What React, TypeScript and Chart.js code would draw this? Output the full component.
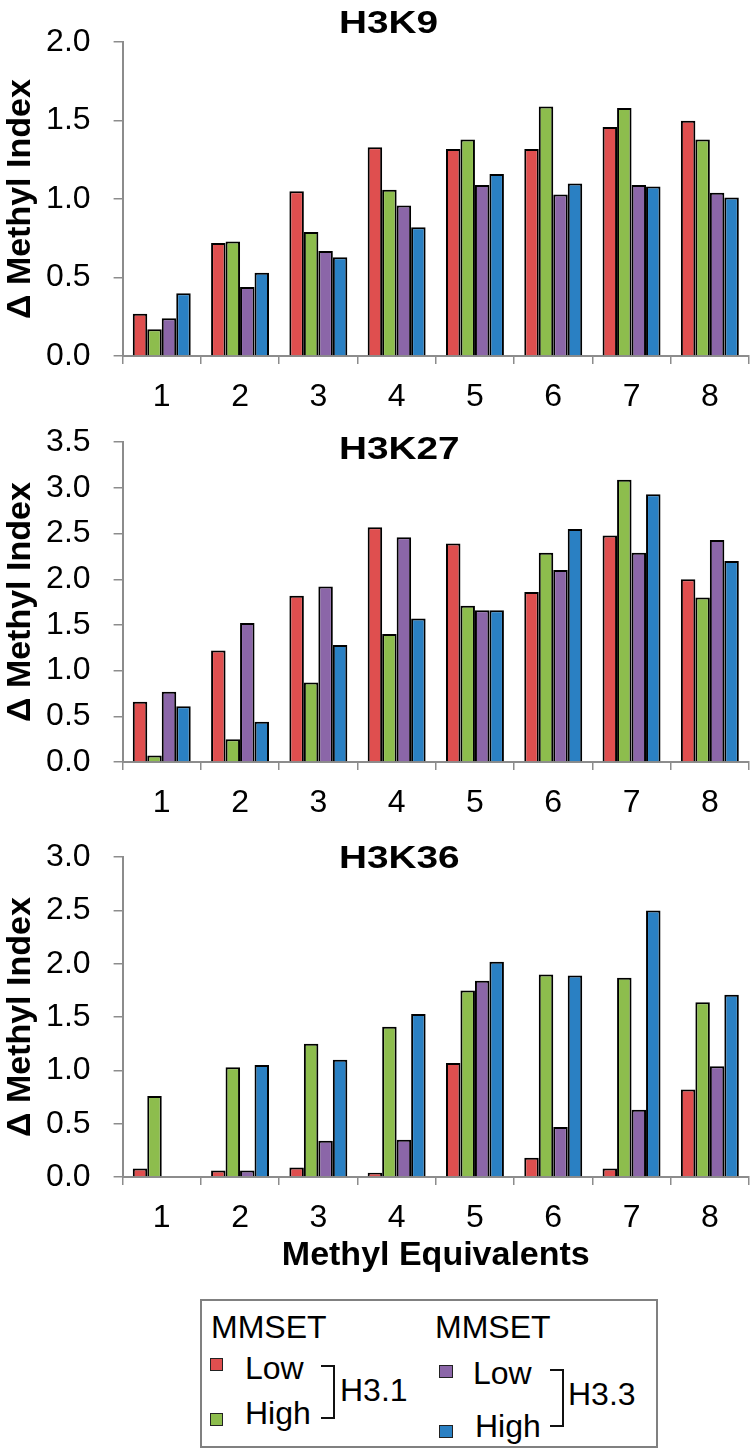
import React, { useEffect, useRef } from "react";
import { Chart, registerables } from "chart.js";

Chart.register(...registerables);

const FONT = "'Liberation Sans', Arial, Helvetica, sans-serif";

// ---- Data ----
const categories = ["1", "2", "3", "4", "5", "6", "7", "8"];
const seriesNames = ["H3.1 MMSET Low", "H3.1 MMSET High", "H3.3 MMSET Low", "H3.3 MMSET High"];
const seriesColors = ["#DF4F4F", "#8DBD4D", "#8B66A8", "#2A80C3"];

const h3k9_h31Low = [0.27, 0.72, 1.05, 1.33, 1.32, 1.32, 1.46, 1.5];
const h3k9_h31High = [0.17, 0.73, 0.79, 1.06, 1.38, 1.59, 1.58, 1.38];
const h3k9_h33Low = [0.24, 0.44, 0.67, 0.96, 1.09, 1.03, 1.09, 1.04];
const h3k9_h33High = [0.4, 0.53, 0.63, 0.82, 1.16, 1.1, 1.08, 1.01];

const h3k27_h31Low = [0.66, 1.22, 1.82, 2.57, 2.39, 1.86, 2.48, 2.0];
const h3k27_h31High = [0.07, 0.25, 0.87, 1.4, 1.71, 2.29, 3.09, 1.8];
const h3k27_h33Low = [0.77, 1.52, 1.92, 2.46, 1.66, 2.1, 2.29, 2.43];
const h3k27_h33High = [0.61, 0.44, 1.28, 1.57, 1.66, 2.55, 2.93, 2.2];

const h3k36_h31Low = [0.08, 0.06, 0.09, 0.04, 1.07, 0.18, 0.08, 0.82];
const h3k36_h31High = [0.76, 1.03, 1.25, 1.41, 1.75, 1.9, 1.87, 1.64];
const h3k36_h33Low = [0, 0.06, 0.34, 0.35, 1.84, 0.47, 0.63, 1.04];
const h3k36_h33High = [0, 1.05, 1.1, 1.53, 2.02, 1.89, 2.5, 1.71];

const yAxisTitle = "Δ Methyl Index";
const xAxisTitle = "Methyl Equivalents";

const panelTitlePlugin = {
  id: "panelTitle",
  afterDraw(chart: any, _args: any, opts: any) {
    if (!opts || !opts.text) return;
    const ctx = chart.ctx;
    ctx.save();
    ctx.font = `bold ${opts.size}px ${FONT}`;
    ctx.fillStyle = "#000";
    ctx.textBaseline = "middle";
    ctx.textAlign = "left";
    ctx.translate(opts.x, opts.y);
    ctx.scale(opts.stretch, 1);
    ctx.fillText(opts.text, 0, 0);
    ctx.restore();
  },
};

type PanelProps = {
  top: number;
  height: number;
  padTop: number;
  xAxisHeight: number;
  title: string;
  titleY: number;
  yMax: number;
  series: number[][];
  showXTitle?: boolean;
};

function Panel(p: PanelProps) {
  const ref = useRef<HTMLCanvasElement | null>(null);
  useEffect(() => {
    if (!ref.current) return;
    const axisGray = "#8c8c8c";
    const chart = new Chart(ref.current, {
      type: "bar",
      data: {
        labels: categories,
        datasets: p.series.map((vals, i) => ({
          label: seriesNames[i],
          data: vals,
          backgroundColor: seriesColors[i],
          borderColor: "#000",
          borderWidth: 2,
          categoryPercentage: 0.74,
          barPercentage: 1.0,
        })),
      },
      options: {
        responsive: false,
        animation: false,
        devicePixelRatio: 1,
        layout: { padding: { top: p.padTop, right: 2, left: 0, bottom: 0 } },
        plugins: {
          legend: { display: false },
          tooltip: { enabled: false },
          panelTitle: { text: p.title, x: 339, y: p.titleY, size: 31, stretch: 1.25 },
        } as any,
        scales: {
          x: {
            offset: true,
            grid: {
              offset: true,
              drawOnChartArea: false,
              drawTicks: true,
              tickLength: 8,
              color: axisGray,
              lineWidth: 1.5,
            },
            border: { color: axisGray, width: 2 },
            ticks: {
              color: "#000",
              padding: 14,
              font: { family: FONT, size: 32 },
            },
            title: {
              display: !!p.showXTitle,
              text: xAxisTitle,
              color: "#000",
              font: { family: FONT, size: 34, weight: "bold" },
              padding: { top: 0, bottom: 18.6 },
            },
            afterFit: (scale: any) => {
              scale.height = p.xAxisHeight;
            },
          },
          y: {
            min: 0,
            max: p.yMax,
            ticks: {
              stepSize: 0.5,
              color: "#000",
              padding: 23,
              font: { family: FONT, size: 32 },
              callback: (v: any) => Number(v).toFixed(1),
            },
            grid: {
              drawOnChartArea: false,
              drawTicks: true,
              tickLength: 9,
              color: axisGray,
              lineWidth: 1.5,
            },
            border: { color: axisGray, width: 2 },
            title: {
              display: true,
              text: yAxisTitle,
              color: "#000",
              font: { family: FONT, size: 34, weight: "bold" },
              padding: { top: 0, bottom: 0 },
            },
            afterFit: (scale: any) => {
              scale.width = 122.6;
            },
          },
        },
      },
      plugins: [panelTitlePlugin as any],
    });
    return () => chart.destroy();
  }, []);
  return (
    <canvas
      ref={ref}
      width={751}
      height={p.height}
      style={{ position: "absolute", left: 0, top: p.top, width: 751, height: p.height }}
    />
  );
}

const legendFont: React.CSSProperties = {
  position: "absolute",
  fontFamily: FONT,
  fontSize: 32,
  lineHeight: "32px",
  color: "#000",
  whiteSpace: "nowrap",
};

function Txt({ x, y, children }: { x: number; y: number; children: React.ReactNode }) {
  return <div style={{ ...legendFont, left: x, top: y }}>{children}</div>;
}

function Swatch({ x, y, w, h, color }: { x: number; y: number; w: number; h: number; color: string }) {
  return (
    <div
      style={{
        position: "absolute",
        left: x,
        top: y,
        width: w,
        height: h,
        boxSizing: "border-box",
        background: color,
        border: "1.5px solid #222",
      }}
    />
  );
}

function Bracket({ x1, x2, y1, y2 }: { x1: number; x2: number; y1: number; y2: number }) {
  return (
    <div
      style={{
        position: "absolute",
        left: x1,
        top: y1,
        width: x2 - x1,
        height: y2 - y1,
        boxSizing: "border-box",
        borderTop: "2px solid #111",
        borderRight: "2px solid #111",
        borderBottom: "2px solid #111",
      }}
    />
  );
}

function Legend() {
  return (
    <>
      <div
        style={{
          position: "absolute",
          left: 200,
          top: 1299,
          width: 458,
          height: 149,
          boxSizing: "border-box",
          border: "2px solid #808080",
        }}
      />
      <Txt x={211} y={1311}>MMSET</Txt>
      <Txt x={435} y={1311}>MMSET</Txt>
      <Swatch x={210} y={1358} w={13} h={13} color={seriesColors[0]} />
      <Txt x={245} y={1352}>Low</Txt>
      <Swatch x={210} y={1413} w={13} h={13} color={seriesColors[1]} />
      <Txt x={245} y={1397}>High</Txt>
      <Bracket x1={321} x2={335} y1={1365} y2={1419} />
      <Txt x={340} y={1374}>H3.1</Txt>
      <Swatch x={439} y={1365} w={14} h={13} color={seriesColors[2]} />
      <Txt x={473} y={1357}>Low</Txt>
      <Swatch x={439} y={1425} w={14} h={13} color={seriesColors[3]} />
      <Txt x={475} y={1410}>High</Txt>
      <Bracket x1={550} x2={564} y1={1369} y2={1427} />
      <Txt x={568} y={1378}>H3.3</Txt>
    </>
  );
}

export default function App() {
  return (
    <div
      style={{
        position: "absolute",
        left: 0,
        top: 0,
        width: 751,
        height: 1450,
        background: "#fff",
        overflow: "hidden",
      }}
    >
      <Panel
        top={0}
        height={420}
        padTop={20}
        xAxisHeight={64}
        title="H3K9"
        titleY={24}
        yMax={2.0}
        series={[h3k9_h31Low, h3k9_h31High, h3k9_h33Low, h3k9_h33High]}
      />
      <Panel
        top={400}
        height={420}
        padTop={25}
        xAxisHeight={58}
        title="H3K27"
        titleY={50}
        yMax={3.5}
        series={[h3k27_h31Low, h3k27_h31High, h3k27_h33Low, h3k27_h33High]}
      />
      <Panel
        top={815}
        height={480}
        padTop={25}
        xAxisHeight={118}
        title="H3K36"
        titleY={44}
        yMax={3.0}
        series={[h3k36_h31Low, h3k36_h31High, h3k36_h33Low, h3k36_h33High]}
        showXTitle
      />
      <Legend />
    </div>
  );
}
